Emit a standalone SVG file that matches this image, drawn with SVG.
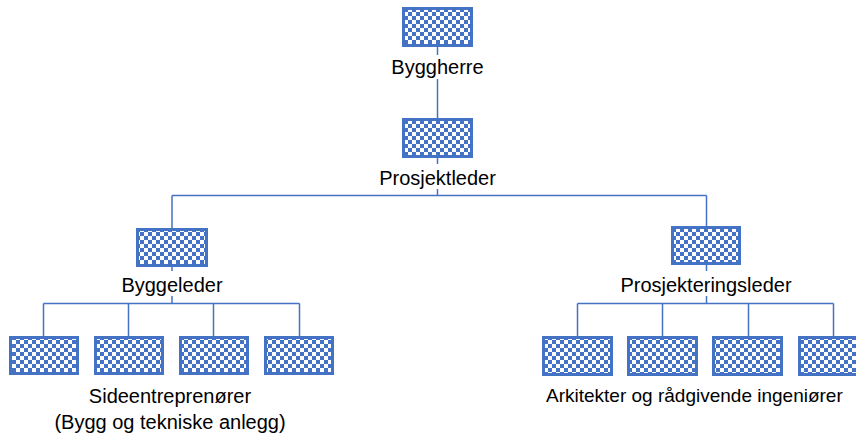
<svg xmlns="http://www.w3.org/2000/svg" width="856" height="436" viewBox="0 0 856 436">
  <defs>
    <!-- small checkerboard fill used for every role box -->
    <pattern id="checker" patternUnits="userSpaceOnUse" width="8" height="8">
      <rect width="8" height="8" fill="#4472C4"/>
      <rect x="0" y="0" width="4" height="4" fill="#ffffff"/>
      <rect x="4" y="4" width="4" height="4" fill="#ffffff"/>
    </pattern>
  </defs>
  <style>
    .box { fill: url(#checker); stroke: #4472C4; stroke-width: 3; }
    .link { fill: none; stroke: #4472C4; stroke-width: 1.5; }
    .label { font-family: "Liberation Sans", Arial, sans-serif; font-size: 20px; fill: #000000; text-anchor: middle; }
    .lblbg { fill: #ffffff; }
  </style>
  <rect width="856" height="436" fill="#ffffff"/>

  <!-- connectors -->
  <g id="connectors" class="link">
    <path d="M437.5 46 V119"/>
    <path d="M437.5 157 V195.5"/>
    <path d="M172 195.5 H706.5"/>
    <path d="M172 195.5 V229"/>
    <path d="M706.5 195.5 V227"/>
    <path d="M172 265 V303.5"/>
    <path d="M43.5 303.5 H299.5"/>
    <path d="M43.5 303.5 V337 M128.5 303.5 V337 M213.5 303.5 V337 M299.5 303.5 V337"/>
    <path d="M706.5 263 V303.5"/>
    <path d="M577.5 303.5 H833.5"/>
    <path d="M577.5 303.5 V337 M662.5 303.5 V337 M748.5 303.5 V337 M833.5 303.5 V337"/>
  </g>

  <g id="byggherre">
    <rect class="box" x="403.5" y="8.5" width="68" height="37"/>
    <rect class="lblbg" x="390" y="55" width="95" height="24"/>
    <text class="label" x="437.5" y="74">Byggherre</text>
  </g>

  <g id="prosjektleder">
    <rect class="box" x="403.5" y="119.5" width="68" height="37"/>
    <rect class="lblbg" x="378" y="164" width="120" height="25"/>
    <text class="label" x="437.5" y="185">Prosjektleder</text>
  </g>

  <g id="byggeleder">
    <rect class="box" x="137.5" y="229.5" width="69" height="36"/>
    <rect class="lblbg" x="120" y="271" width="104" height="25"/>
    <text class="label" x="172" y="292">Byggeleder</text>
  </g>

  <g id="prosjekteringsleder">
    <rect class="box" x="672.5" y="227.5" width="67" height="36"/>
    <rect class="lblbg" x="615" y="271" width="182" height="25"/>
    <text class="label" x="706" y="292">Prosjekteringsleder</text>
  </g>

  <g id="sideentreprenorer">
    <rect class="box" x="10.5" y="337.5" width="67" height="36"/>
    <rect class="box" x="95.5" y="337.5" width="67" height="36"/>
    <rect class="box" x="180.5" y="337.5" width="67" height="36"/>
    <rect class="box" x="265.5" y="337.5" width="67" height="36"/>
    <text class="label" x="170" y="403">Sideentreprenører</text>
    <text class="label" x="170" y="429">(Bygg og tekniske anlegg)</text>
  </g>

  <g id="radgivere">
    <rect class="box" x="543.5" y="337.5" width="68" height="37"/>
    <rect class="box" x="628.5" y="337.5" width="68" height="37"/>
    <rect class="box" x="713.5" y="337.5" width="68" height="37"/>
    <rect class="box" x="799.5" y="337.5" width="68" height="37"/>
    <text class="label" x="546" y="402" style="text-anchor:start; font-size:19px">Arkitekter og rådgivende ingeniører</text>
  </g>
</svg>
